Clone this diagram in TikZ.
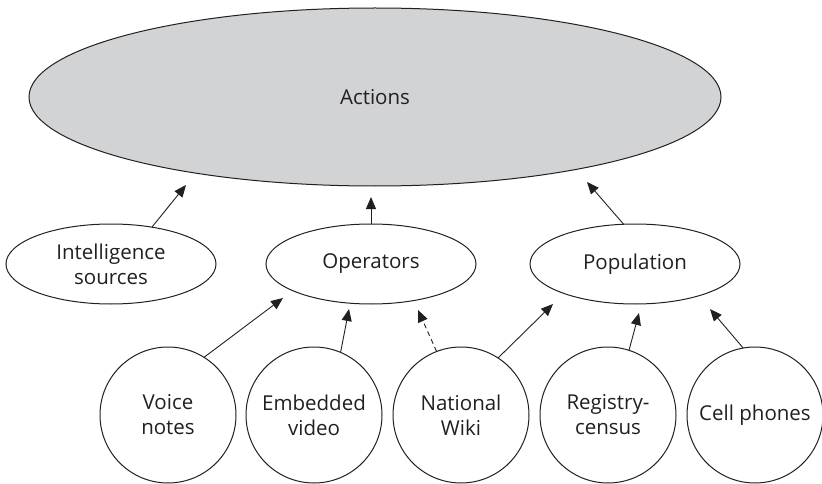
\documentclass[tikz,border=0pt]{standalone}
\usepackage{fontspec}
\setmainfont{Open Sans}
\usetikzlibrary{arrows.meta,shapes.geometric}
\definecolor{ink}{HTML}{231F20}
\definecolor{actfill}{HTML}{D1D3D4}
\begin{document}
\begin{tikzpicture}[x=1pt,y=-1pt,
  every node/.style={inner sep=0pt, outer sep=0pt, text=ink, font=\fontsize{20.5}{25}\selectfont, align=center},
  bigell/.style={ellipse, draw=ink, line width=1pt, fill=actfill, minimum width=692pt, minimum height=178pt},
  midell/.style={ellipse, draw=ink, line width=1pt, fill=white, minimum width=210pt, minimum height=80pt},
  srccirc/.style={circle, draw=ink, line width=1pt, fill=white, minimum size=136pt},
  arr/.style={draw=ink, line width=0.9pt, -{Triangle[length=12pt,width=10pt]}},
  darr/.style={arr, dash pattern=on 5pt off 3.5pt}]
\useasboundingbox (0,0) rectangle (822,484);
\node[bigell] (actions) at (375,97) {Actions};
\node[midell] (intel) at (111,264) {Intelligence\\sources};
\node[midell] (oper) at (371,264) {Operators};
\node[midell] (pop) at (635,264) {Population};
\node[srccirc] (voice) at (168,415) {Voice\\notes};
\node[srccirc] (video) at (314,415) {Embedded\\video};
\node[srccirc] (wiki) at (461,415) {National\\Wiki};
\node[srccirc] (census) at (608,415) {Registry-\\census};
\node[srccirc] (cell) at (755,415) {Cell phones};
\coordinate (t1) at (186,185);
\coordinate (t2) at (371,197);
\coordinate (t3) at (587,182);
\coordinate (t4) at (283,298);
\coordinate (t5) at (349,309);
\coordinate (t6) at (418,310);
\coordinate (t7) at (553,304);
\coordinate (t8) at (639,313);
\coordinate (t9) at (710,309);
\draw[arr] (intel.42) -- (t1);
\draw[arr] (oper.90) -- (t2);
\draw[arr] (pop.106) -- (t3);
\draw[arr] (voice.58) -- (t4);
\draw[arr] (video.67) -- (t5);
\draw[darr] (wiki.111) -- (t6);
\draw[arr] (wiki.57) -- (t7);
\draw[arr] (census.72) -- (t8);
\draw[arr] (cell.100) -- (t9);
\end{tikzpicture}
\end{document}
